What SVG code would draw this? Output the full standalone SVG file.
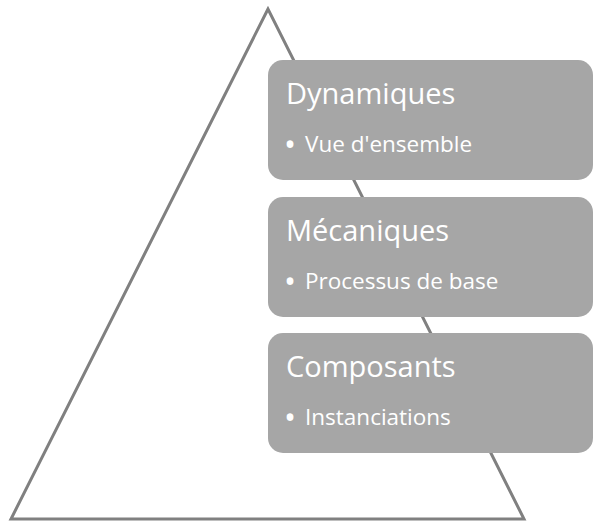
<svg xmlns="http://www.w3.org/2000/svg" width="593" height="522" viewBox="0 0 593 522">
<style>
.box{fill:#a6a6a6;}
.t{font-family:"Open Sans","Liberation Sans",sans-serif;fill:#ffffff;}
.h{font-size:29px;}
.b{font-size:22.5px;}
.d{font-size:32px;}
</style>
<rect width="593" height="522" fill="#ffffff"/>
<g id="connectors">
<polygon points="268,9 11,519 524,519" fill="none" stroke="#808080" stroke-width="3" stroke-linejoin="miter"/>
</g>
<g id="node-dynamiques">
<rect class="box" x="268" y="60" width="325" height="120" rx="15"/>
<text class="t h" x="286" y="104">Dynamiques</text>
<text class="t b"><tspan class="d" x="284" y="156">•</tspan><tspan x="305" y="152">Vue d'ensemble</tspan></text>
</g>
<g id="node-mecaniques">
<rect class="box" x="268" y="197" width="325" height="120" rx="15"/>
<text class="t h" x="286" y="241">Mécaniques</text>
<text class="t b"><tspan class="d" x="284" y="293">•</tspan><tspan x="305" y="289">Processus de base</tspan></text>
</g>
<g id="node-composants">
<rect class="box" x="268" y="333" width="325" height="120" rx="15"/>
<text class="t h" x="286" y="377">Composants</text>
<text class="t b"><tspan class="d" x="284" y="429">•</tspan><tspan x="305" y="425">Instanciations</tspan></text>
</g>
</svg>
